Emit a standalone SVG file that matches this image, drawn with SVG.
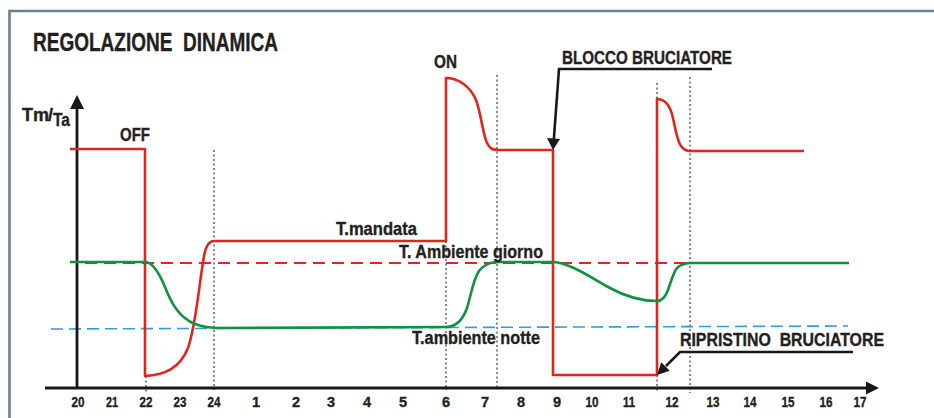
<svg xmlns="http://www.w3.org/2000/svg" width="934" height="418" viewBox="0 0 934 418">
<style>
text{font-family:"Liberation Sans Narrow","Liberation Sans",Arial,sans-serif;font-weight:bold;fill:#231f20;stroke:#231f20;stroke-width:0.35;white-space:pre}
.tick{font-size:14.5px;text-anchor:middle}
.lbl{font-size:18px}
.dot{stroke:#111;stroke-width:1;stroke-dasharray:2 2.5;fill:none}
.red{stroke:#e0251f;stroke-width:2.6;fill:none;stroke-linejoin:round}
.grn{stroke:#0f9140;stroke-width:2.6;fill:none}
.axis{stroke:#1a1718;stroke-width:2.8;fill:none}
.lead{stroke:#1a1718;stroke-width:2.6;fill:none}
</style>
<rect width="934" height="418" fill="#fff"/>
<g id="frame">
<path d="M9.5,418 V11 H934" fill="none" stroke="#6b7f95" stroke-width="2.6"/>
</g>
<g id="title"><text x="33" y="51" font-size="25" textLength="245" lengthAdjust="spacingAndGlyphs">REGOLAZIONE&#160; DINAMICA</text></g>
<g id="grid">
<line class="dot" x1="146" y1="376" x2="146" y2="392"/>
<line class="dot" x1="214" y1="150" x2="214" y2="390"/>
<line class="dot" x1="446" y1="241" x2="446" y2="390"/>
<line class="dot" x1="497" y1="75" x2="497" y2="390"/>
<line class="dot" x1="657" y1="83" x2="657" y2="99"/>
<line class="dot" x1="657" y1="375" x2="657" y2="393"/>
<line class="dot" x1="690" y1="77" x2="690" y2="393"/>
</g>
<g id="refs">
<line x1="85" y1="263" x2="690" y2="263" stroke="#e0251f" stroke-width="2" stroke-dasharray="12 7"/>
<line x1="51" y1="329" x2="848" y2="326" stroke="#2a9fe0" stroke-width="1.6" stroke-dasharray="12 6"/>
</g>
<g id="axes">
<line class="axis" x1="77" y1="105" x2="77" y2="388"/>
<polygon points="77,95 70,109 84,109" fill="#1a1718"/>
<line class="axis" x1="45" y1="388" x2="868" y2="388"/>
<polygon points="879,388 866,381.5 866,394.5" fill="#1a1718"/>
</g>
<g id="ticks">
<text class="tick" x="78" y="407" textLength="13" lengthAdjust="spacingAndGlyphs">20</text>
<text class="tick" x="112" y="407" textLength="12" lengthAdjust="spacingAndGlyphs">21</text>
<text class="tick" x="146" y="407" textLength="13" lengthAdjust="spacingAndGlyphs">22</text>
<text class="tick" x="180" y="407" textLength="13" lengthAdjust="spacingAndGlyphs">23</text>
<text class="tick" x="214" y="407" textLength="13" lengthAdjust="spacingAndGlyphs">24</text>
<text class="tick" x="256" y="407">1</text>
<text class="tick" x="296" y="407">2</text>
<text class="tick" x="331" y="407">3</text>
<text class="tick" x="367" y="407">4</text>
<text class="tick" x="403" y="407">5</text>
<text class="tick" x="446" y="407">6</text>
<text class="tick" x="485" y="407">7</text>
<text class="tick" x="521" y="407">8</text>
<text class="tick" x="557" y="407">9</text>
<text class="tick" x="592" y="407" textLength="13" lengthAdjust="spacingAndGlyphs">10</text>
<text class="tick" x="629" y="407" textLength="12" lengthAdjust="spacingAndGlyphs">11</text>
<text class="tick" x="672" y="407" textLength="13" lengthAdjust="spacingAndGlyphs">12</text>
<text class="tick" x="713" y="407" textLength="13" lengthAdjust="spacingAndGlyphs">13</text>
<text class="tick" x="750" y="407" textLength="13" lengthAdjust="spacingAndGlyphs">14</text>
<text class="tick" x="788" y="407" textLength="13" lengthAdjust="spacingAndGlyphs">15</text>
<text class="tick" x="826" y="407" textLength="13" lengthAdjust="spacingAndGlyphs">16</text>
<text class="tick" x="860" y="407" textLength="13" lengthAdjust="spacingAndGlyphs">17</text>
</g>
<g id="curves">
<path id="t-mandata" class="red" d="M70,149 H145 V376 C165,375 180,368 188,348 C196,325 199,285 204,256 C206,245 209,241 214,241 H446 V78 C458,78 470,86 476,100 C481,113 483,135 487,143 C490,149 493,150 498,150 H553 V375 H657 V99 C664,99 669,104 672,114 C675,126 677,141 681,146 C684,150 686,151 690,151 H804"/>
<path id="t-ambiente" class="grn" d="M70,262 H146 C152,263 158,270 165,287 C172,305 180,318 195,324 C203,327 210,328 220,328 L446,327 C455,327 462,322 467,308 C471,295 473,280 479,271 C485,264 490,262 500,262 H553 C570,263 590,277 610,288 C630,299 645,301 657,301 C662,301 665,298 668,290 C671,282 673,273 677,268 C681,264 685,263 692,263 H849"/>
</g>
<g id="labels">
<text x="22" y="121" font-size="18" textLength="27" lengthAdjust="spacingAndGlyphs">Tm</text>
<text x="48" y="121" font-size="18">/</text>
<text x="53" y="126" font-size="18" textLength="17" lengthAdjust="spacingAndGlyphs">Ta</text>
<text class="lbl" x="120" y="141" textLength="30" lengthAdjust="spacingAndGlyphs">OFF</text>
<text class="lbl" x="434" y="68" textLength="23" lengthAdjust="spacingAndGlyphs">ON</text>
<text class="lbl" x="336" y="235" textLength="81" lengthAdjust="spacingAndGlyphs">T.mandata</text>
<text class="lbl" x="399" y="258" textLength="144" lengthAdjust="spacingAndGlyphs">T. Ambiente giorno</text>
<text class="lbl" x="412" y="344" textLength="128" lengthAdjust="spacingAndGlyphs">T.ambiente notte</text>
</g>
<g id="blocco">
<text class="lbl" x="562" y="64" textLength="170" lengthAdjust="spacingAndGlyphs">BLOCCO BRUCIATORE</text>
<path class="lead" d="M712,69 H559 L553.8,140"/>
<polygon points="553,150 547,138 560,139" fill="#1a1718"/>
</g>
<g id="ripristino">
<text class="lbl" x="680" y="346" textLength="204" lengthAdjust="spacingAndGlyphs">RIPRISTINO&#160; BRUCIATORE</text>
<path class="lead" d="M853,352 H680 L666,366"/>
<polygon points="657,375 661.3,362.3 669.7,370.7" fill="#1a1718"/>
</g>
</svg>
